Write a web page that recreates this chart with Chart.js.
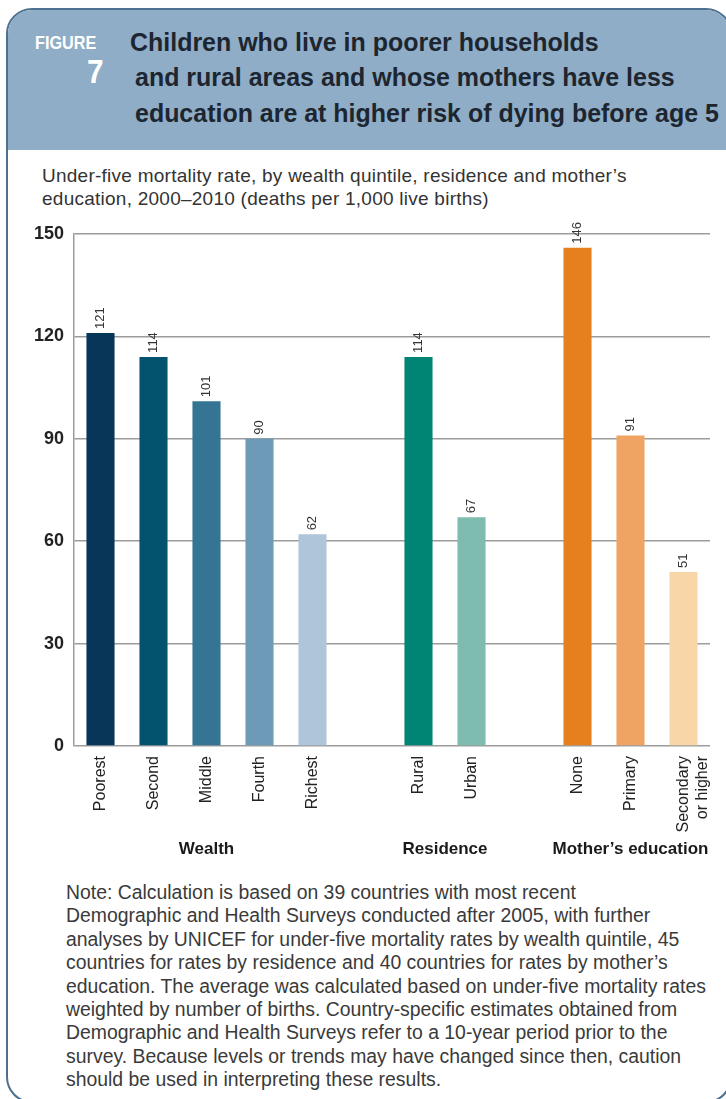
<!DOCTYPE html>
<html>
<head>
<meta charset="utf-8">
<script src="https://cdn.jsdelivr.net/npm/chart.js@4.4.1/dist/chart.umd.min.js"></script>
<style>
  body { margin: 0; width: 726px; height: 1099px; overflow: hidden; background: #fff; position: relative; }
  .frame {
    position: absolute; left: 6px; top: 8px; width: 722px; height: 1091px;
    border: 2px solid #4d7090; border-radius: 26px; overflow: hidden; background: #fff;
  }
  .head { position: absolute; left: 0; top: 0; right: 0; height: 140px; background: #8fadc6; }
  .narrow { font-family: "Liberation Sans Narrow", "Arial Narrow", "Liberation Sans", sans-serif; font-weight: bold; }
  .fig { position: absolute; color: #fff; transform-origin: left top; transform: scaleX(0.9); }
  .title { position: absolute; color: #1d2630; font-size: 26px; white-space: nowrap; line-height: 1; transform-origin: left top; transform: scaleX(0.96); }
  .sub { position: absolute; left: 42px; font-family: "Liberation Sans", Arial, sans-serif; font-size: 19px; letter-spacing: 0.25px; color: #333; white-space: nowrap; line-height: 1; }
  .note { position: absolute; left: 66px; top: 881px; font-family: "Liberation Sans", Arial, sans-serif; font-size: 19.4px; line-height: 23.4px; color: #3a3a3a; white-space: nowrap; }
  #chart { position: absolute; left: 0; top: 220px; }
</style>
</head>
<body>
<div class="frame"><div class="head"></div></div>

<div class="fig narrow" style="left:35px; top:33px; font-size:18px;">FIGURE</div>
<div class="fig narrow" style="left:87px; top:53px; font-size:33px;">7</div>
<div class="title narrow" style="left:130px; top:29px;">Children who live in poorer households</div>
<div class="title narrow" style="left:135px; top:64px;">and rural areas and whose mothers have less</div>
<div class="title narrow" style="left:135px; top:100px;">education are at higher risk of dying before age 5</div>

<div class="sub" style="top:166px;">Under-five mortality rate, by wealth quintile, residence and mother’s</div>
<div class="sub" style="top:189px;">education, 2000–2010 (deaths per 1,000 live births)</div>

<canvas id="chart" width="726" height="650"></canvas>

<div class="note">Note: Calculation is based on 39 countries with most recent<br>Demographic and Health Surveys conducted after 2005, with further<br>analyses by UNICEF for under-five mortality rates by wealth quintile, 45<br>countries for rates by residence and 40 countries for rates by mother’s<br>education. The average was calculated based on under-five mortality rates<br>weighted by number of births. Country-specific estimates obtained from<br>Demographic and Health Surveys refer to a 10-year period prior to the<br>survey. Because levels or trends may have changed since then, caution<br>should be used in interpreting these results.</div>

<script>
// empty slots separate the three groups
const categories = ['Poorest', 'Second', 'Middle', 'Fourth', 'Richest', '', 'Rural', 'Urban', '', 'None', 'Primary', ['Secondary', 'or higher']];
const rates = [121, 114, 101, 90, 62, null, 114, 67, null, 146, 91, 51];
const barColors = ['#073658', '#03536f', '#347594', '#6d9bb7', '#afc5d9', null, '#008574', '#7fbcb0', null, '#e67f1e', '#efa463', '#f9d6a7'];
const yTicks = [0, 30, 60, 90, 120, 150];

const groupNames = ['Wealth', 'Residence', 'Mother’s education'];
const groupFirst = [0, 6, 9];
const groupLast = [4, 7, 11];

const gridColor = '#9c9c9c';

const valueLabels = {
  id: 'valueLabels',
  afterDatasetsDraw(chart) {
    const ctx = chart.ctx;
    const meta = chart.getDatasetMeta(0);
    ctx.save();
    ctx.font = '13px "Liberation Sans", Arial, sans-serif';
    ctx.fillStyle = '#333';
    ctx.textAlign = 'left';
    ctx.textBaseline = 'middle';
    meta.data.forEach((bar, i) => {
      if (rates[i] == null) return;
      ctx.save();
      ctx.translate(bar.x, bar.y - 4);
      ctx.rotate(-Math.PI / 2);
      ctx.fillText(String(rates[i]), 0, 0);
      ctx.restore();
    });
    ctx.restore();
  }
};

const groupLabels = {
  id: 'groupLabels',
  afterDraw(chart) {
    const ctx = chart.ctx;
    const x = chart.scales.x;
    ctx.save();
    ctx.font = 'bold 17px "Liberation Sans Narrow", "Arial Narrow", "Liberation Sans", sans-serif';
    ctx.fillStyle = '#1a1a1a';
    ctx.textAlign = 'center';
    ctx.textBaseline = 'middle';
    groupNames.forEach((name, g) => {
      const cx = (x.getPixelForValue(groupFirst[g]) + x.getPixelForValue(groupLast[g])) / 2;
      ctx.fillText(name, cx, 629);
    });
    ctx.restore();
  }
};

new Chart(document.getElementById('chart'), {
  type: 'bar',
  data: {
    labels: categories,
    datasets: [{
      data: rates,
      backgroundColor: barColors,
      categoryPercentage: 1,
      barPercentage: 0.53
    }]
  },
  options: {
    responsive: false,
    animation: false,
    devicePixelRatio: 1,
    layout: { padding: { top: 14, right: 16, left: 0, bottom: 0 } },
    plugins: { legend: { display: false }, tooltip: { enabled: false } },
    scales: {
      x: {
        grid: { display: false, drawTicks: false },
        border: { display: false },
        ticks: {
          autoSkip: false, minRotation: 90, maxRotation: 90, padding: 10,
          color: '#222', font: { family: '"Liberation Sans", Arial, sans-serif', size: 16 }
        },
        afterFit(scale) {
          scale.height = 124;
          scale.paddingLeft = 0;
          scale.paddingRight = 0;
        }
      },
      y: {
        min: 0, max: 150,
        afterBuildTicks(scale) { scale.ticks = yTicks.map(v => ({ value: v })); },
        grid: { color: gridColor, lineWidth: 1.5, drawTicks: false },
        border: { display: true, color: gridColor, width: 1.5 },
        ticks: {
          padding: 10, color: '#222',
          font: { family: '"Liberation Sans", Arial, sans-serif', size: 18, weight: 'bold' }
        },
        afterFit(scale) {
          scale.width = 74;
          scale.paddingTop = 0;
          scale.paddingBottom = 0;
        }
      }
    }
  },
  plugins: [valueLabels, groupLabels]
});
</script>
</body>
</html>
